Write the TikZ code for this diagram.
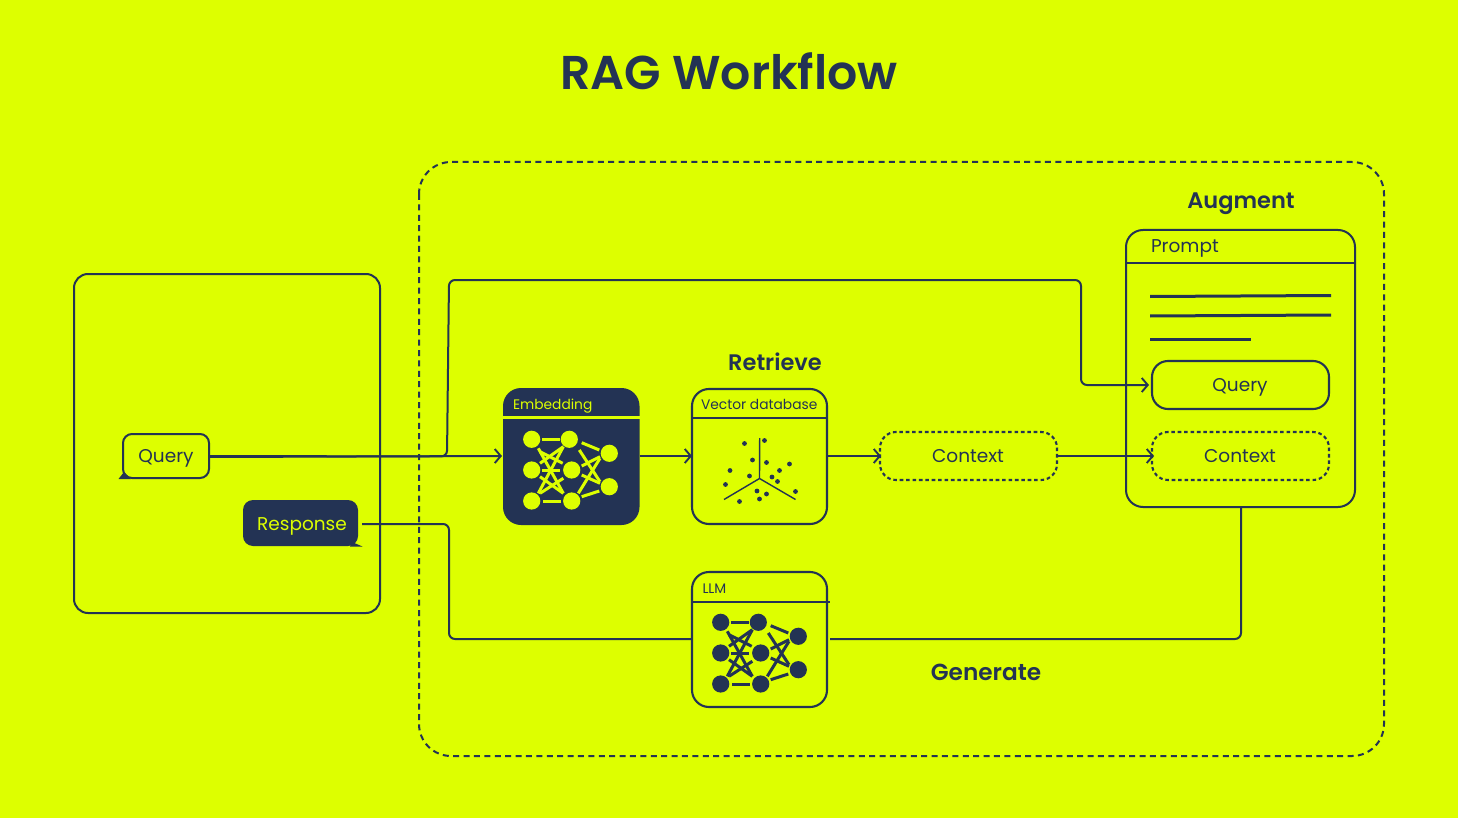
\documentclass[tikz,border=0pt]{standalone}
\usepackage{fontspec}
\setmainfont{Poppins}
\newfontfamily\semi{Poppins SemiBold}
\usetikzlibrary{arrows.meta,calc}
\definecolor{lime}{HTML}{DDFF00}
\definecolor{navy}{HTML}{233354}
\tikzset{
  x=1pt,y=-1pt,
  every node/.style={text=navy,inner sep=0pt,outer sep=0pt},
  panel/.style={draw=navy,line width=2pt,rounded corners=14pt},
  card/.style={draw=navy,line width=2.1pt,rounded corners=17pt},
  pill/.style={draw=navy,line width=2.1pt,rounded corners=16pt},
  dashpill/.style={pill,dash pattern=on 3.6pt off 2.8pt},
  link/.style={draw=navy,line width=2pt,rounded corners=6pt},
  arrowlink/.style={link,-{Straight Barb[length=6pt,width=14pt,line width=1.9pt]}},
  label/.style={font=\fontsize{18.5}{22}\selectfont,anchor=base},
  small/.style={font=\fontsize{13.8}{16}\selectfont,anchor=base west},
  stage/.style={font=\fontsize{22.5}{26}\semi,anchor=base},
}
% neural net icon: #1 = x offset, #2 = y offset, #3 = colour
\newcommand{\netdraw}[3]{%
  \begin{scope}[shift={(#1,#2)}]
    \foreach \cx/\cy in {531.7/439.3,569.3/439.3,531.7/470,571.7/470,531.7/501,571.7/501,609.3/453.3,609.3/486.7}
      \fill[#3] (\cx,\cy) circle (8.6);
    \foreach \ax/\ay/\bx/\by in {
      542.3/439.3/560/439.3, 542.3/470.7/560/470.7, 543.3/501.7/561/501.7,
      538.3/448.3/563.3/493.3, 540/451.7/562.7/463.3, 540/463.3/563.3/446.7,
      540/476.7/563.3/493.3, 538.3/493.3/563.3/446.7, 540/493.3/563.3/478.3,
      581.7/442.7/599.3/450, 579.3/450/600/481.7, 581.7/466/600/456.7,
      581.7/475/600/483.3, 578.3/493.3/600/458.3, 581.7/496.7/599.3/491}
      \draw[#3,line width=3pt] (\ax,\ay) -- (\bx,\by);
  \end{scope}}
\begin{document}
\begin{tikzpicture}
\useasboundingbox (0,0) rectangle (1458,818);
\fill[lime] (0,0) rectangle (1458,818);

\node[font=\fontsize{47.4}{54}\semi,anchor=base] (title) at (729,89.5) {RAG Workflow};

% containers
\draw[navy,line width=2pt,dash pattern=on 6pt off 4.4pt,rounded corners=32pt] (419,162) rectangle (1384,756);
\draw[panel] (74,274) rectangle (380,613);

% bubbles
\draw[panel,rounded corners=9pt] (123,434) rectangle (209,478);
\fill[navy] (124,472) -- (118.5,479) -- (131,479) -- cycle;
\node[label] (query) at (166,462.5) {Query};
\coordinate (queryE) at (209,456);
\fill[navy,rounded corners=10pt] (243,500) rectangle (358,546);
\fill[navy] (352,542) -- (362.5,546.5) -- (350,546.5) -- cycle;
\node[label,text=lime] (response) at (302,530) {Response};
\coordinate (responseE) at (362,524);

% embedding
\fill[navy,rounded corners=18pt] (503,388) rectangle (639.5,525);
\draw[lime,line width=2.1pt] (503,417.5) -- (639.5,417.5);
\node[small,text=lime] (emb) at (513,409) {Embedding};
\netdraw{0}{0}{lime}
\coordinate (embW) at (502,456);
\coordinate (embE) at (639.5,456);

% vector database
\draw[card] (692,389) rectangle (827,524);
\draw[navy,line width=2.1pt] (692,418) -- (827,418);
\node[small] (vdb) at (701,409) {Vector database};
\coordinate (vdbW) at (692,456);
\coordinate (vdbE) at (827,456);
\draw[navy,line width=1.4pt] (759.5,478.5) -- (759.7,438) (759.5,478.5) -- (724,499.5) (759.5,478.5) -- (795.5,499.5);
\foreach \px/\py in {744.5/443.5,764.5/440.5,752.5/460,766.5/462.5,789.5/464,779.5/470.5,730/470.5,749.5/476,772/477,777.5/481.5,725.5/484.5,757/491,766.5/494,795.5/491.5,759.5/499,739.5/501.5}
  \fill[navy] (\px,\py) circle (2.4);

% context mid
\draw[dashpill] (880,432) rectangle (1057,480);
\node[label] (ctxa) at (968,462.5) {Context};
\coordinate (ctxaW) at (881,456);
\coordinate (ctxaE) at (1057,456);

% prompt
\draw[panel,rounded corners=17pt] (1126,230) rectangle (1355,507);
\draw[navy,line width=1.1pt] (1126,263) -- (1355,263);
\node[label,anchor=base west] (prompt) at (1151,252.5) {Prompt};
\draw[navy,line width=3pt] (1150,296.5) -- (1331,295.5);
\draw[navy,line width=3pt] (1150,316) -- (1331,315);
\draw[navy,line width=3pt] (1150,339) -- (1251,339);
\draw[pill] (1152,361) rectangle (1329,409);
\node[label] (queryb) at (1240,391.5) {Query};
\coordinate (querybW) at (1149,385);
\draw[dashpill] (1152,432) rectangle (1329,480);
\node[label] (ctxb) at (1240,462.5) {Context};
\coordinate (ctxbW) at (1154,456);
\coordinate (promptS) at (1241,507);

% LLM
\draw[card] (692,572) rectangle (827,707);
\draw[navy,line width=2.1pt] (692,602) -- (830,602);
\node[small] (llm) at (702.5,593.5) {LLM};
\netdraw{189}{183}{navy}
\coordinate (llmW) at (692,639);
\coordinate (llmE) at (830,639);

% stages
\node[stage] (retrieve) at (775,370) {Retrieve};
\node[stage] (augment) at (1241,209) {Augment};
\node[stage,font=\fontsize{23.2}{26}\semi] (generate) at (986,680) {Generate};

% connectors
\draw[arrowlink] (queryE) -- (447,456.5) -- (449,280) -- (1081,280) -- (1081,385) -- (querybW);
\draw[arrowlink] (queryE) ++(0,1) -- (embW);
\draw[arrowlink] (embE) -- (vdbW);
\draw[arrowlink] (vdbE) -- (ctxaW);
\draw[arrowlink] (ctxaE) -- (ctxbW);
\draw[link] (promptS) -- (1241,639) -- (llmE);
\draw[link] (llmW) -- (449,639) -- (449,524) -- (responseE);
\end{tikzpicture}
\end{document}
